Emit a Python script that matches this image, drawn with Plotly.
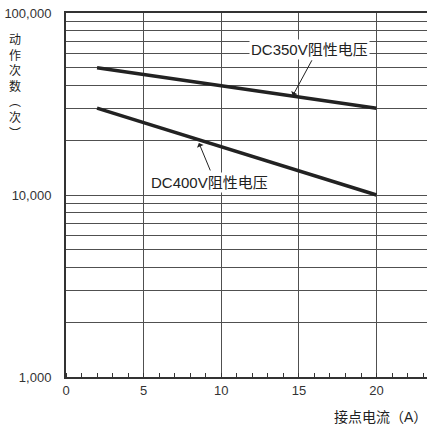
import plotly.graph_objects as go

# Data
current_350 = [2, 20]
ops_350 = [50000, 30000]
current_400 = [2, 20]
ops_400 = [30000, 10000]

x_ticks = [0, 5, 10, 15, 20]
y_grid = [1000, 2000, 3000, 4000, 5000, 6000, 7000, 8000, 9000,
          10000, 20000, 30000, 40000, 50000, 60000, 70000, 80000, 90000, 100000]
y_labels = {1000: "1,000", 10000: "10,000", 100000: "100,000"}

label_350 = "DC350V阻性电压"
label_400 = "DC400V阻性电压"
x_title = "接点电流（A）"
y_title = "<br>".join(["动", "作", "次", "数", "︵", "次", "︶"])

FONT = "Liberation Sans, Arial, Noto Sans CJK SC, sans-serif"
INK = "#222222"
GRID = "#505050"

W, H = 427, 427
ML, MR, MT, MB = 66, 0, 13, 50

fig = go.Figure()
fig.add_trace(go.Scatter(x=current_350, y=ops_350, mode="lines",
                         line=dict(color=INK, width=3.5), showlegend=False))
fig.add_trace(go.Scatter(x=current_400, y=ops_400, mode="lines",
                         line=dict(color=INK, width=3.5), showlegend=False))

fig.update_layout(
    width=W, height=H,
    margin=dict(l=ML, r=MR, t=MT, b=MB),
    paper_bgcolor="white", plot_bgcolor="white",
    font=dict(family=FONT, size=13, color="#333333"),
    showlegend=False,
)
fig.update_xaxes(
    range=[0, 23.25], tickvals=x_ticks, ticktext=[str(v) for v in x_ticks],
    showgrid=True, gridcolor=GRID, gridwidth=1.4, zeroline=False,
    showline=True, linecolor="#333333", linewidth=2, mirror=True,
    ticks="", tickfont=dict(size=13, color="#333333"),
    minor=dict(dtick=1, tick0=0, ticks="inside", ticklen=4, tickcolor="#333333",
               tickwidth=1, showgrid=False),
)
fig.update_yaxes(
    type="log", range=[3, 5], tickvals=y_grid,
    ticktext=[y_labels.get(v, "") for v in y_grid],
    showgrid=True, gridcolor=GRID, gridwidth=1.4, zeroline=False,
    showline=True, linecolor="#333333", linewidth=2,
    ticks="", ticklabelstandoff=10, tickfont=dict(size=13, color="#333333"),
)

# Arrows
fig.add_annotation(x=14.6, y=4.545, xref="x", yref="y", text="", showarrow=True,
                   ax=20, ay=-37, arrowhead=1, arrowsize=1.2, arrowwidth=1,
                   arrowcolor=INK, standoff=0)
fig.add_annotation(x=8.56, y=4.286, xref="x", yref="y", text="", showarrow=True,
                   ax=12, ay=29, arrowhead=1, arrowsize=1.2, arrowwidth=1,
                   arrowcolor=INK, standoff=0)
# Labels
fig.add_annotation(x=15.71, y=4.799, xref="x", yref="y", text=label_350,
                   showarrow=False, bgcolor="white", borderpad=1,
                   font=dict(size=15, color="#222222"))
fig.add_annotation(x=9.21, y=4.067, xref="x", yref="y", text=label_400,
                   showarrow=False, bgcolor="white", borderpad=1,
                   font=dict(size=15, color="#222222"))

plot_h = H - MT - MB
plot_w = W - ML - MR
# Axis titles
fig.add_annotation(x=1, y=-40 / plot_h, xref="paper", yref="paper",
                   xanchor="right", yanchor="middle", xshift=2, text=x_title,
                   showarrow=False, font=dict(size=14, color="#222222"))
fig.add_annotation(x=(15 - ML) / plot_w, y=(H - MB - 87) / plot_h, xref="paper", yref="paper",
                   text=y_title, showarrow=False, xanchor="center", yanchor="middle",
                   font=dict(size=12, color="#222222"))

fig.write_html("out.html", config={"displayModeBar": False},
               post_script="document.body.style.margin='0';document.body.style.overflow='hidden';")
